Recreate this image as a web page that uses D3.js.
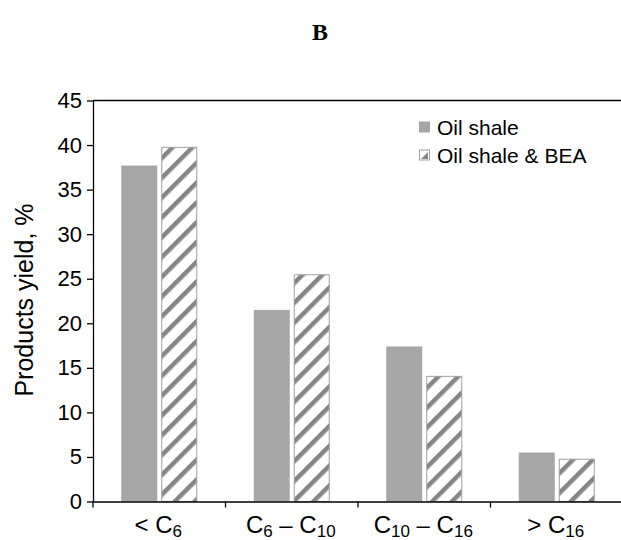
<!DOCTYPE html>
<html><head><meta charset="utf-8">
<script src="https://cdn.jsdelivr.net/npm/d3@7"></script>
<style>body{margin:0;background:#fff}</style>
</head><body>
<svg id="c" width="621" height="540"></svg>
<script>
const categories = [
  {base:"< C", sub:"6", rest:"", sub2:""},
  {base:"C", sub:"6", rest:" – C", sub2:"10"},
  {base:"C", sub:"10", rest:" – C", sub2:"16"},
  {base:"> C", sub:"16", rest:"", sub2:""}
];
const catKeys = ["lt6","6to10","10to16","gt16"];
const seriesNames = ["Oil shale", "Oil shale & BEA"];
const oilShale = [37.7, 21.5, 17.4, 5.5];
const oilShaleBEA = [39.8, 25.5, 14.1, 4.8];
const yTicks = [0,5,10,15,20,25,30,35,40,45];

const svg = d3.select("#c");
const m = {left:93, top:100.5, right:623, bottom:501.5};
const SANS = "Liberation Sans, Arial, sans-serif";

const defs = svg.append("defs");
const pat = defs.append("pattern").attr("id","hatch").attr("patternUnits","userSpaceOnUse")
  .attr("width",14).attr("height",14).attr("patternTransform","rotate(45)");
pat.append("rect").attr("width",14).attr("height",14).attr("fill","#fff");
pat.append("rect").attr("x",0).attr("y",0).attr("width",4.5).attr("height",14).attr("fill","#858585");

const x = d3.scaleBand().domain(catKeys).range([m.left, m.right]).padding(0);
const y = d3.scaleLinear().domain([0,45]).range([m.bottom, m.top]);
const barW = 36, gap = 4;

// Title
svg.append("text").attr("x",320).attr("y",40).attr("text-anchor","middle")
  .attr("font-family","Liberation Serif, Times New Roman, serif").attr("font-weight","bold")
  .attr("font-size",24).text("B");

// bars
const g = svg.append("g");
catKeys.forEach((k,i)=>{
  const c = x(k) + x.bandwidth()/2;
  g.append("rect").attr("x", c - gap/2 - barW).attr("y", y(oilShale[i]))
    .attr("width", barW).attr("height", y(0)-y(oilShale[i])).attr("fill","#a6a6a6");
  g.append("rect").attr("x", c + gap/2 + 0.5).attr("y", y(oilShaleBEA[i]) + 0.5)
    .attr("width", barW - 1).attr("height", y(0)-y(oilShaleBEA[i]) - 0.5)
    .attr("fill","url(#hatch)").attr("stroke","#a0a0a0").attr("stroke-width",1);
});

// top frame line of plot area
svg.append("line").attr("x1",m.left).attr("x2",621).attr("y1",y(45)).attr("y2",y(45))
  .attr("stroke","#000").attr("stroke-width",1.3);

// y axis
const yAxis = d3.axisLeft(y).tickValues(yTicks).tickSize(6).tickSizeOuter(0);
const ya = svg.append("g").attr("transform",`translate(${m.left},0)`).call(yAxis);
ya.select(".domain").attr("stroke","#000").attr("stroke-width",1.3);
ya.selectAll(".tick line").attr("stroke","#000").attr("stroke-width",1.3);
ya.selectAll("text").attr("font-family",SANS).attr("font-size",22).attr("fill","#000").attr("dx",-2);

// x axis
const xAxis = d3.axisBottom(x).tickSize(0).tickFormat("");
const xa = svg.append("g").attr("transform",`translate(0,${m.bottom})`).call(xAxis);
xa.select(".domain").attr("stroke","#000").attr("stroke-width",1.3);
catKeys.forEach(k=>{
  xa.append("line").attr("x1",x(k)).attr("x2",x(k)).attr("y1",0).attr("y2",6)
    .attr("stroke","#000").attr("stroke-width",1.3);
});
// x labels
catKeys.forEach((k,i)=>{
  const c = categories[i];
  const t = svg.append("text").attr("x", x(k)+x.bandwidth()/2 - 1).attr("y", 533)
    .attr("text-anchor","middle").attr("font-family",SANS)
    .attr("font-size",24).attr("fill","#000");
  t.append("tspan").text(c.base);
  t.append("tspan").text(c.sub).attr("font-size",17).attr("dy",4);
  if (c.rest) {
    t.append("tspan").text(c.rest).attr("dy",-4);
    t.append("tspan").text(c.sub2).attr("font-size",17).attr("dy",4);
  }
});

// y label
svg.append("text").attr("transform","translate(33,300) rotate(-90)").attr("text-anchor","middle")
  .attr("font-family",SANS).attr("font-size",25).attr("fill","#000")
  .text("Products yield, %");

// legend
const leg = svg.append("g");
const legY = [127, 155];
seriesNames.forEach((s,i)=>{
  if (i===0) leg.append("rect").attr("x",419).attr("y",legY[i]-5.5).attr("width",11).attr("height",11).attr("fill","#a6a6a6");
  else {
    leg.append("rect").attr("x",419.5).attr("y",legY[i]-5).attr("width",10).attr("height",10).attr("fill","#fff").attr("stroke","#a0a0a0");
    leg.append("path").attr("d",`M${421},${legY[i]+4} L${428},${legY[i]-3} L${428},${legY[i]+4} Z`).attr("fill","#858585");
  }
  leg.append("text").attr("x",437).attr("y",legY[i]+7.5).attr("font-family",SANS)
    .attr("font-size",21).attr("fill","#000").text(s);
});
</script>
</body></html>
